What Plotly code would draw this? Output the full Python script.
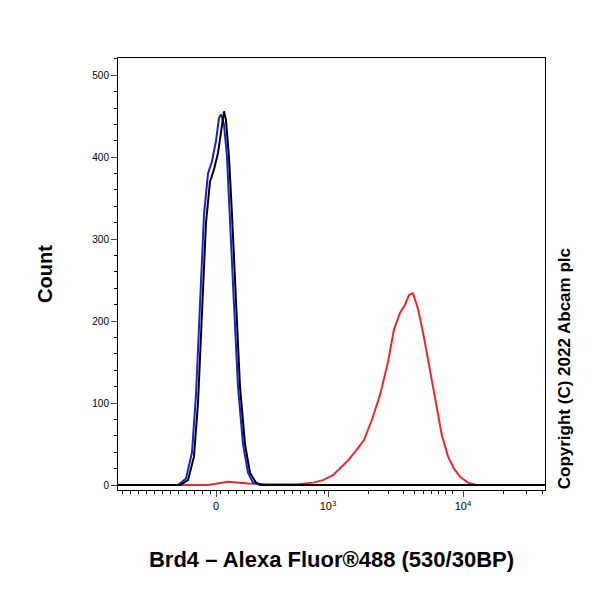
import numpy as np
import plotly.graph_objects as go

# x in display channels (biexponential scale drawn linearly); 0 -> 98, 1e3 -> 210, 1e4 -> 345
tick_pos = [98, 210, 345]
tick_text = ["0", "10<sup>3</sup>", "10<sup>4</sup>"]

blue_x = [-10, 60, 68, 74, 78, 82, 86, 90, 94, 98, 101, 103, 106, 109, 112, 116, 120, 125, 130, 135, 142, 430]
blue_y = [0, 0, 8, 40, 110, 230, 330, 380, 395, 420, 448, 452, 440, 400, 330, 220, 120, 50, 15, 3, 0, 0]

black_x = [-10, 62, 70, 76, 80, 84, 88, 92, 96, 100, 104, 106, 108, 111, 114, 118, 122, 127, 132, 138, 145, 430]
black_y = [0, 0, 6, 35, 100, 220, 320, 370, 385, 405, 440, 456, 445, 400, 330, 220, 120, 50, 15, 3, 0, 0]

red_x = [-10, 90, 110, 130, 150, 180, 195, 205, 215, 222, 230, 238, 246, 254, 262, 270, 276, 282, 287, 291, 295, 300, 306, 312, 318, 324, 330, 336, 342, 350, 358, 430]
red_y = [0, 0, 4, 2, 1, 1, 3, 6, 12, 20, 30, 42, 55, 80, 110, 150, 190, 210, 220, 232, 234, 215, 180, 140, 100, 60, 35, 20, 10, 3, 0, 0]

fig = go.Figure()
for xs, ys, c in [(red_x, red_y, "#e8292c"), (blue_x, blue_y, "#1f1fd0"), (black_x, black_y, "black")]:
    fig.add_trace(go.Scatter(x=xs, y=ys, mode="lines", line=dict(color=c, width=2), showlegend=False))

fig.update_layout(
    width=600, height=600, plot_bgcolor="white", paper_bgcolor="white",
    margin=dict(l=110, r=63, t=50, b=118),
    font=dict(family="Arial, Liberation Sans", color="black"),
    xaxis=dict(range=[0, 427], tickmode="array", tickvals=tick_pos, ticktext=tick_text,
               showline=True, linecolor="black", mirror=True, showgrid=False, zeroline=False,
               ticks="outside", ticklen=6, tickfont=dict(size=11),
               minor=dict(tickmode="array", ticks="outside", ticklen=3, tickcolor="black",
                          tickvals=list(range(4, 98, 8)) + list(range(102, 210, 8)) + [250, 270, 285, 296, 305, 313, 320, 327, 334] + [385, 408, 424]),
               title=dict(text="<b>Brd4 – Alexa Fluor®488 (530/30BP)</b>", font=dict(size=22), standoff=40)),
    yaxis=dict(range=[-6, 521], tickvals=[0, 100, 200, 300, 400, 500],
               showline=True, linecolor="black", mirror=True, showgrid=False, zeroline=False,
               ticks="outside", ticklen=6, tickfont=dict(size=10),
               minor=dict(dtick=20, ticks="outside", ticklen=3, tickcolor="black"),
               title=dict(text="<b>Count</b>", font=dict(size=20), standoff=34)),
)
fig.add_annotation(text="<b>Copyright (C) 2022 Abcam plc</b>", xref="paper", yref="paper",
                   x=1.045, y=0.28, xanchor="center", yanchor="middle",
                   showarrow=False, textangle=-90, font=dict(size=17))
fig.write_html("out.html")
